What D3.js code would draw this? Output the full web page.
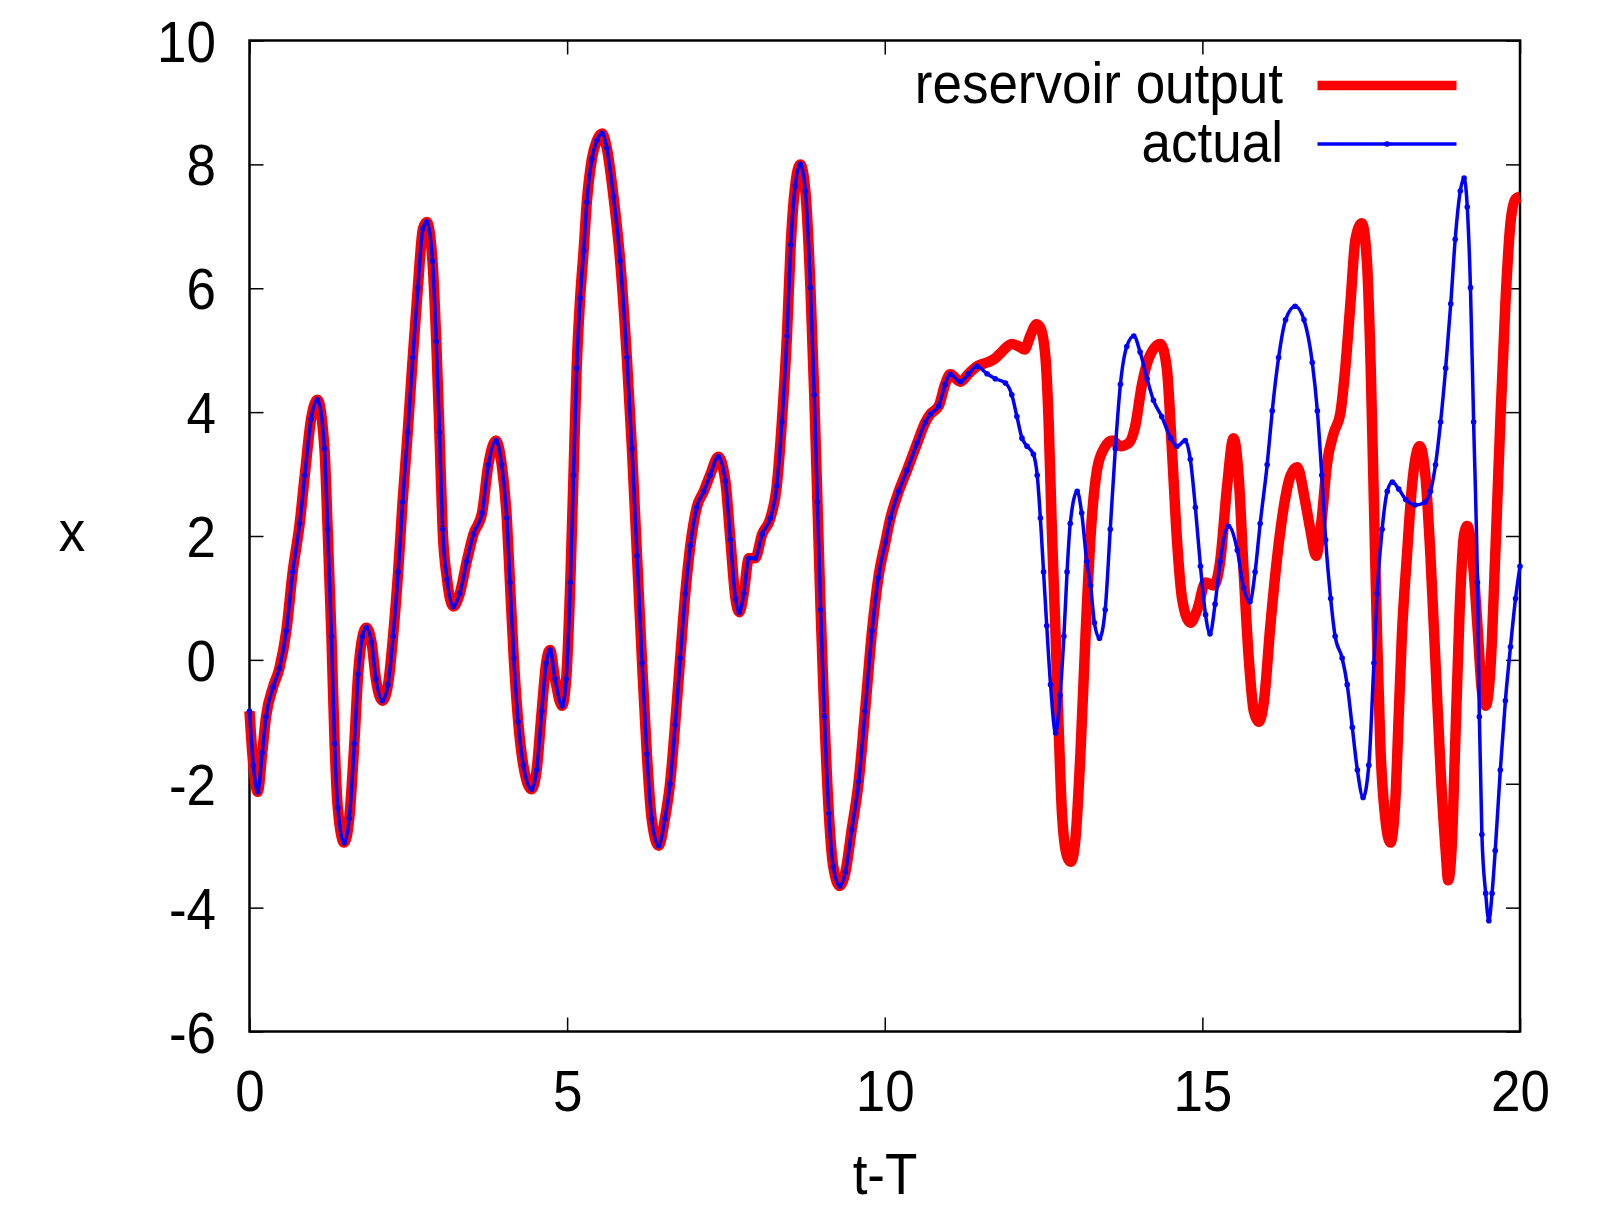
<!DOCTYPE html>
<html>
<head>
<meta charset="utf-8">
<script src="https://cdn.jsdelivr.net/npm/d3@7"></script>
<style>
  body { margin: 0; background: #fff; }
  text { font-family: "Liberation Sans", Arial, sans-serif; fill: #000; }
</style>
</head>
<body>
<svg id="chart"></svg>
<script>
// ticks
const xTicks = [0, 5, 10, 15, 20];
const yTicks = [-6, -4, -2, 0, 2, 4, 6, 8, 10];

// both series follow the same path until t-T ~ 11.4
const shared = [
  [0, -0.83], [0.06, -1.7], [0.13, -2.13], [0.2, -1.5], [0.26, -0.92], [0.37, -0.44],
  [0.47, -0.14], [0.58, 0.47], [0.68, 1.42], [0.79, 2.2], [0.87, 2.98], [0.97, 3.89],
  [1.07, 4.2], [1.18, 3.41], [1.23, 2.11], [1.29, 0.38], [1.34, -1.35], [1.39, -2.39],
  [1.49, -2.95], [1.57, -2.56], [1.65, -1.35], [1.71, -0.23], [1.78, 0.38], [1.84, 0.52],
  [1.92, 0.29], [1.99, -0.31], [2.09, -0.66], [2.18, -0.4], [2.26, 0.38], [2.34, 1.42],
  [2.41, 2.55], [2.49, 3.67], [2.57, 4.88], [2.65, 6.01], [2.73, 6.96], [2.79, 7.07],
  [2.88, 6.44], [2.94, 5.14], [2.99, 3.67], [3.04, 2.11], [3.11, 1.3], [3.21, 0.86],
  [3.31, 1.07], [3.42, 1.59], [3.525, 2.03], [3.66, 2.37], [3.76, 3.15], [3.88, 3.54],
  [3.97, 3.15], [4.05, 2.29], [4.10, 1.25], [4.16, 0.03], [4.23, -1.0], [4.31, -1.70],
  [4.44, -2.09], [4.52, -1.78], [4.60, -0.83], [4.67, -0.05], [4.73, 0.16], [4.81, -0.31],
  [4.92, -0.74], [4.985, -0.31], [5.05, 1.25], [5.10, 2.98], [5.15, 4.71], [5.205, 5.84],
  [5.26, 6.61], [5.31, 7.39], [5.39, 8.09], [5.47, 8.39], [5.55, 8.5], [5.625, 8.26],
  [5.73, 7.48], [5.835, 6.44], [5.94, 4.88], [6.02, 3.41], [6.10, 1.68], [6.18, -0.05],
  [6.255, -1.52], [6.33, -2.56], [6.44, -3.0], [6.54, -2.56], [6.62, -2.0], [6.70, -1.05],
  [6.78, 0.03], [6.86, 1.07], [6.94, 1.85], [7.04, 2.46], [7.15, 2.72], [7.25, 2.98],
  [7.38, 3.28], [7.49, 2.89], [7.57, 1.94], [7.65, 0.99], [7.71, 0.77], [7.78, 1.07],
  [7.86, 1.64], [7.96, 1.64], [8.07, 2.03], [8.20, 2.29], [8.30, 2.81], [8.38, 3.84],
  [8.46, 5.23], [8.52, 6.70], [8.59, 7.65], [8.67, 8.0], [8.75, 7.57], [8.83, 6.01],
  [8.89, 4.28], [8.94, 2.55], [8.99, 0.81], [9.05, -0.92], [9.12, -2.48], [9.19, -3.34],
  [9.29, -3.65], [9.38, -3.43], [9.48, -2.74], [9.59, -1.96], [9.69, -0.83], [9.80, 0.47],
  [9.90, 1.33], [10.01, 1.9], [10.09, 2.29], [10.22, 2.72], [10.35, 3.06], [10.51, 3.50],
  [10.64, 3.84], [10.72, 3.97], [10.85, 4.10], [10.95, 4.45], [11.03, 4.61], [11.19, 4.49],
  [11.32, 4.62], [11.45, 4.74]
];

// reservoir output after it leaves the true trajectory
const reservoirTail = [
  [11.61, 4.80], [11.74, 4.87], [11.84, 4.97], [12.00, 5.10], [12.11, 5.06], [12.20, 5.01],
  [12.29, 5.23], [12.39, 5.42], [12.45, 5.36], [12.53, 4.88], [12.58, 3.84], [12.63, 2.11],
  [12.69, 0.38], [12.74, -1.18], [12.79, -2.48], [12.87, -3.17], [12.93, -3.26], [13.0, -2.91],
  [13.08, -1.52], [13.16, 0.38], [13.24, 2.0], [13.34, 3.06], [13.45, 3.41], [13.58, 3.54],
  [13.71, 3.45], [13.84, 3.5], [13.94, 3.76], [14.05, 4.45], [14.16, 4.88], [14.34, 5.1],
  [14.44, 4.71], [14.52, 3.41], [14.60, 1.94], [14.68, 0.99], [14.81, 0.60], [14.92, 0.81],
  [15.05, 1.25], [15.18, 1.20], [15.28, 1.59], [15.39, 2.81], [15.49, 3.58], [15.57, 2.98],
  [15.65, 1.42], [15.73, 0.03], [15.81, -0.83], [15.89, -1.0], [15.97, -0.66], [16.07, 0.55],
  [16.18, 1.68], [16.28, 2.46], [16.39, 2.98], [16.49, 3.11], [16.62, 2.55], [16.70, 2.1],
  [16.79, 1.68], [16.88, 2.29], [16.96, 3.15], [17.07, 3.67], [17.17, 3.97], [17.25, 4.71],
  [17.33, 5.75], [17.41, 6.79], [17.51, 7.05], [17.59, 6.44], [17.65, 4.71], [17.70, 2.55],
  [17.75, 0.38], [17.80, -1.35], [17.88, -2.56], [17.96, -2.95], [18.04, -2.22], [18.09, -0.92],
  [18.14, 0.38], [18.22, 1.68], [18.30, 2.81], [18.42, 3.45], [18.51, 2.98], [18.59, 1.68],
  [18.67, -0.05], [18.75, -1.78], [18.83, -3.08], [18.87, -3.56], [18.93, -2.91], [18.98, -1.35],
  [19.05, 0.81], [19.12, 2.03], [19.17, 2.16], [19.25, 1.68], [19.33, 0.55], [19.40, -0.49],
  [19.46, -0.74], [19.54, -0.05], [19.61, 1.68], [19.69, 3.84], [19.77, 5.75], [19.85, 7.05],
  [19.93, 7.44], [20.0, 7.48]
];

// actual trajectory after the split
const actualTail = [
  [11.61, 4.62], [11.74, 4.54], [11.90, 4.47], [12.00, 4.28], [12.08, 3.93], [12.16, 3.58],
  [12.24, 3.45], [12.34, 3.32], [12.40, 2.98], [12.45, 2.29], [12.50, 1.42], [12.55, 0.55],
  [12.61, -0.40], [12.69, -1.18], [12.76, -0.57], [12.82, 0.38], [12.87, 1.42], [12.92, 2.2],
  [13.03, 2.72], [13.10, 2.37], [13.18, 1.59], [13.24, 1.2], [13.30, 0.6], [13.38, 0.35],
  [13.47, 0.81], [13.55, 2.11], [13.63, 3.41], [13.71, 4.45], [13.81, 5.06], [13.92, 5.23],
  [14.02, 4.97], [14.13, 4.54], [14.23, 4.19], [14.36, 3.93], [14.50, 3.58], [14.60, 3.45],
  [14.73, 3.54], [14.81, 3.24], [14.89, 2.46], [14.97, 1.51], [15.05, 0.73], [15.12, 0.42],
  [15.20, 0.90], [15.28, 1.59], [15.41, 2.16], [15.55, 1.77], [15.65, 1.16], [15.75, 0.94],
  [15.83, 1.42], [15.91, 2.2], [16.02, 3.15], [16.10, 4.02], [16.20, 4.88], [16.31, 5.49],
  [16.46, 5.71], [16.60, 5.49], [16.73, 4.80], [16.81, 4.02], [16.88, 2.98], [16.94, 1.94],
  [17.02, 0.99], [17.09, 0.38], [17.20, 0.03], [17.28, -0.40], [17.36, -1.09], [17.44, -1.78],
  [17.53, -2.22], [17.62, -1.70], [17.70, -0.05], [17.75, 1.07], [17.83, 2.11], [17.91, 2.72],
  [17.99, 2.87], [18.09, 2.76], [18.20, 2.59], [18.35, 2.50], [18.51, 2.55], [18.59, 2.72],
  [18.67, 3.15], [18.75, 3.84], [18.83, 4.71], [18.91, 5.75], [18.98, 6.79], [19.06, 7.57],
  [19.12, 7.78], [19.17, 7.31], [19.22, 6.01], [19.27, 3.84], [19.33, 1.25], [19.36, -0.92],
  [19.40, -2.82], [19.46, -3.77], [19.51, -4.21], [19.56, -3.77], [19.61, -3.08], [19.69, -1.78],
  [19.77, -0.66], [19.85, 0.21], [19.93, 0.99], [20.0, 1.51]
];

const reservoir = shared.concat(reservoirTail);
const actual = shared.concat(actualTail);

// set the dimensions and margins of the graph
const margin = {top: 40.5, right: 94, bottom: 175.5, left: 249.5},
    width = 1614 - margin.left - margin.right,
    height = 1207 - margin.top - margin.bottom;

const squeeze = "scale(0.93,1)";
const fontSize = "57px";

const root = d3.select("#chart")
    .attr("width", 1614)
    .attr("height", 1207);

const svg = root.append("g")
    .attr("transform", "translate(" + margin.left + "," + margin.top + ")");

const x = d3.scaleLinear().domain([0, 20]).range([0, width]);
const y = d3.scaleLinear().domain([-6, 10]).range([height, 0]);

// plain hyphen for negatives, like the original
const plain = function(d) { return String(d); };

// axes, gnuplot style: ticks pointing inwards, mirrored on top and right
function styleAxis(g) {
    g.select(".domain").remove();
    g.selectAll(".tick line").attr("stroke", "#000").attr("stroke-width", 1.5);
    g.selectAll("text")
        .style("font-size", fontSize)
        .attr("fill", "#000")
        .attr("transform", squeeze);
}

svg.append("g")
    .attr("transform", "translate(0," + height + ")")
    .call(d3.axisBottom(x).tickValues(xTicks).tickFormat(plain).tickSizeInner(-14).tickSizeOuter(0).tickPadding(39))
    .call(styleAxis);

svg.append("g")
    .call(d3.axisLeft(y).tickValues(yTicks).tickFormat(plain).tickSizeInner(-14).tickSizeOuter(0).tickPadding(36))
    .call(styleAxis)
    .selectAll("text").attr("dy", "0.36em");

svg.append("g")
    .call(d3.axisTop(x).tickValues(xTicks).tickSizeInner(-14).tickSizeOuter(0).tickFormat(""))
    .call(styleAxis);

svg.append("g")
    .attr("transform", "translate(" + width + ",0)")
    .call(d3.axisRight(y).tickValues(yTicks).tickSizeInner(-14).tickSizeOuter(0).tickFormat(""))
    .call(styleAxis);

// plot border
svg.append("rect")
    .attr("width", width)
    .attr("height", height)
    .attr("fill", "none")
    .attr("stroke", "#000")
    .attr("stroke-width", 2.5);

// axis labels
root.append("g")
    .attr("transform", "translate(72,551) " + squeeze)
    .append("text")
    .attr("text-anchor", "middle")
    .style("font-size", fontSize)
    .text("x");

root.append("g")
    .attr("transform", "translate(885,1194) " + squeeze)
    .append("text")
    .attr("text-anchor", "middle")
    .style("font-size", fontSize)
    .text("t-T");

const line = d3.line()
    .x(function(d) { return x(d[0]); })
    .y(function(d) { return y(d[1]); })
    .curve(d3.curveMonotoneX);

const plot = svg.append("g");

// reservoir output: thick red line
plot.append("path")
    .datum(reservoir)
    .attr("fill", "none")
    .attr("stroke", "#ff0000")
    .attr("stroke-width", 10.5)
    .attr("stroke-linejoin", "round")
    .attr("d", line);

// actual: thin blue line with small points
plot.append("path")
    .datum(actual)
    .attr("fill", "none")
    .attr("stroke", "#0000ff")
    .attr("stroke-width", 3.5)
    .attr("stroke-linejoin", "round")
    .attr("d", line);

plot.selectAll("circle.pt")
    .data(actual)
    .enter()
    .append("circle")
    .attr("class", "pt")
    .attr("fill", "#0000ff")
    .attr("cx", function(d) { return x(d[0]); })
    .attr("cy", function(d) { return y(d[1]); })
    .attr("r", 2.8);

// legend
const legend = [
    {name: "reservoir output", color: "#ff0000", width: 9.5, dot: false, ly: 85.5, ty: 103},
    {name: "actual", color: "#0000ff", width: 3.5, dot: true, ly: 144, ty: 162}
];

legend.forEach(function(d) {
    root.append("g")
        .attr("transform", "translate(1283," + d.ty + ") " + squeeze)
        .append("text")
        .attr("text-anchor", "end")
        .style("font-size", fontSize)
        .text(d.name);
    root.append("line")
        .attr("x1", 1317.5).attr("x2", 1456.5)
        .attr("y1", d.ly).attr("y2", d.ly)
        .attr("stroke", d.color)
        .attr("stroke-width", d.width);
    if (d.dot) {
        root.append("circle")
            .attr("cx", 1387).attr("cy", d.ly).attr("r", 2.8)
            .attr("fill", d.color);
    }
});
</script>
</body>
</html>
